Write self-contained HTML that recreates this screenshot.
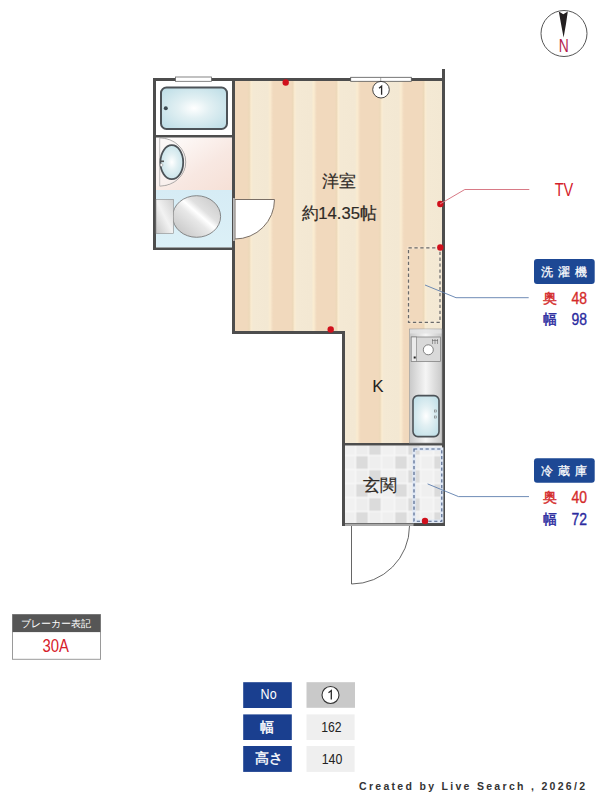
<!DOCTYPE html>
<html><head><meta charset="utf-8">
<style>
html,body{margin:0;padding:0;background:#fff;width:600px;height:800px;overflow:hidden}
svg{display:block}
text{font-family:"Liberation Sans",sans-serif}
</style></head><body>
<svg width="600" height="800" viewBox="0 0 600 800">
<defs>
  <pattern id="stripes" x="227.9" y="0" width="43.6" height="800" patternUnits="userSpaceOnUse">
    <rect x="0" y="0" width="43.6" height="800" fill="url(#stripegrad)"/>
  </pattern>
  <linearGradient id="stripegrad" x1="0" y1="0" x2="43.6" y2="0" gradientUnits="userSpaceOnUse">
    <stop offset="0" stop-color="#f5e2c8"/>
    <stop offset="0.04" stop-color="#f1d9bd"/>
    <stop offset="0.45" stop-color="#f1d9bd"/>
    <stop offset="0.49" stop-color="#ecd8b9"/>
    <stop offset="0.53" stop-color="#faecd2"/>
    <stop offset="0.58" stop-color="#f4e9d4"/>
    <stop offset="0.92" stop-color="#f3e8d3"/>
    <stop offset="0.97" stop-color="#fbecd0"/>
    <stop offset="1" stop-color="#f5e2c8"/>
  </linearGradient>
  <pattern id="tiles" x="342.5" y="441.5" width="39" height="28" patternUnits="userSpaceOnUse">
    <rect width="39" height="28" fill="#f7f7f7"/>
    <rect x="0.7" y="0.7" width="11.6" height="12.6" fill="#f1f1f1"/>
    <rect x="13.7" y="0.7" width="11.6" height="12.6" fill="#ededed"/>
    <rect x="26.7" y="0.7" width="11.6" height="12.6" fill="#dbdbdb"/>
    <rect x="0.7" y="14.7" width="11.6" height="12.6" fill="#efefef"/>
    <rect x="13.7" y="14.7" width="11.6" height="12.6" fill="#dbdbdb"/>
    <rect x="26.7" y="14.7" width="11.6" height="12.6" fill="#eeeeee"/>
  </pattern>
  <radialGradient id="water" cx="0.5" cy="0.5" r="0.6">
    <stop offset="0" stop-color="#ffffff"/>
    <stop offset="0.4" stop-color="#e2f0f3"/>
    <stop offset="1" stop-color="#c2e0e8"/>
  </radialGradient>
  <linearGradient id="pink" x1="0" y1="0" x2="1" y2="1">
    <stop offset="0" stop-color="#ffffff"/>
    <stop offset="0.6" stop-color="#f8e8e2"/>
    <stop offset="1" stop-color="#f6e0d6"/>
  </linearGradient>
  <linearGradient id="blueflr" x1="0" y1="0" x2="0" y2="1">
    <stop offset="0" stop-color="#d6ecf5"/>
    <stop offset="1" stop-color="#dcf0f7"/>
  </linearGradient>
  <linearGradient id="silver" x1="0" y1="0" x2="1" y2="0">
    <stop offset="0" stop-color="#c9c9c9"/>
    <stop offset="0.5" stop-color="#f5f5f5"/>
    <stop offset="1" stop-color="#c9c9c9"/>
  </linearGradient>
  <linearGradient id="silvertank" x1="0" y1="1" x2="1" y2="0">
    <stop offset="0" stop-color="#c6c6c6"/>
    <stop offset="0.5" stop-color="#f2f2f2"/>
    <stop offset="1" stop-color="#d0d0d0"/>
  </linearGradient>
  <linearGradient id="silverdiag" x1="0" y1="1" x2="1" y2="0">
    <stop offset="0" stop-color="#bdbdbd"/>
    <stop offset="0.45" stop-color="#e8e8e8"/>
    <stop offset="0.55" stop-color="#ffffff"/>
    <stop offset="0.65" stop-color="#e0e0e0"/>
    <stop offset="1" stop-color="#c4c4c4"/>
  </linearGradient>
</defs>

<!-- main room floor -->
<polygon points="235,81 442,81 442,443 345,443 345,331 235,331" fill="url(#stripes)"/>
<!-- genkan floor -->
<rect x="345" y="445.5" width="97" height="77.5" fill="url(#tiles)"/>
<!-- bathroom -->
<rect x="156" y="81" width="76" height="54" fill="#fff"/>
<rect x="156" y="137.5" width="76" height="52.5" fill="url(#pink)"/>
<rect x="156" y="190" width="76" height="57.5" fill="url(#blueflr)"/>

<!-- walls -->
<g fill="#4d4d4d">
  <rect x="153" y="78" width="292" height="3"/>
  <rect x="153" y="78" width="3" height="172"/>
  <rect x="153" y="247.5" width="82" height="2.5"/>
  <rect x="232" y="78" width="3" height="256"/>
  <rect x="232" y="331" width="113" height="3"/>
  <rect x="342" y="331" width="3" height="195"/>
  <rect x="342" y="523" width="103" height="3"/>
  <rect x="442" y="69" width="3" height="457"/>
  <rect x="342" y="443" width="103" height="2.5"/>
  <rect x="156" y="135" width="76" height="2.5"/>
</g>


<!-- bathtub -->
<rect x="161" y="87.5" width="66" height="41.5" rx="5.5" fill="url(#water)" stroke="#4d5358" stroke-width="2"/>
<circle cx="165.8" cy="108.3" r="2" fill="#3d4a52"/>
<!-- vanity -->
<path d="M159.7,138 A26,24 0 0 1 159.7,186" fill="none" stroke="#777" stroke-width="0.8"/>
<path d="M156,138 L159.7,138 A26,24 0 0 1 159.7,186 L156,186 Z" fill="#f7f3f3" stroke="none" opacity="0.5"/>
<line x1="159.7" y1="138" x2="159.7" y2="186" stroke="#999" stroke-width="0.6"/>
<ellipse cx="171.8" cy="162.2" rx="11.4" ry="17" fill="url(#water)" stroke="#4d5358" stroke-width="1.8"/>
<rect x="160.5" y="160.5" width="3.5" height="1.6" fill="#555"/>
<circle cx="161.5" cy="165" r="1.4" fill="#fff" stroke="#888" stroke-width="0.5"/>
<!-- toilet -->
<ellipse cx="196.6" cy="216.5" rx="24" ry="20.8" fill="url(#silverdiag)" stroke="#6e6e6e" stroke-width="0.8"/>
<rect x="156" y="199.5" width="17.4" height="34" fill="url(#silvertank)" stroke="#8a8a8a" stroke-width="0.6"/>
<!-- toilet door -->
<path d="M235,199.5 L274.5,199.5 A39.5,39.5 0 0 1 235,239 Z" fill="#fff" stroke="#7a6f66" stroke-width="1"/>
<rect x="233.2" y="198" width="1.4" height="43" fill="#d4d4d4"/>
<!-- windows -->
<rect x="175.5" y="77" width="36" height="4.3" fill="#fff" stroke="#666" stroke-width="0.8"/>
<rect x="350.7" y="77.3" width="60.6" height="4" fill="#fff" stroke="#555" stroke-width="0.8"/>
<line x1="380.7" y1="77.3" x2="380.7" y2="81.3" stroke="#777" stroke-width="0.6"/>
<circle cx="381" cy="89.7" r="8.3" fill="#fff" stroke="#333" stroke-width="0.9"/>
<path d="M381.6,94.8 V86.2 L379,88.3" fill="none" stroke="#2a2a2a" stroke-width="1.3" stroke-linejoin="miter"/>
<!-- washing machine dashed -->
<rect x="408.5" y="247.8" width="31.5" height="74.5" fill="none" stroke="#fbf3e6" stroke-width="2.6" opacity="0.35"/>
<rect x="408.5" y="247.8" width="31.5" height="74.5" fill="none" stroke="#6a6a6a" stroke-width="1.25" stroke-dasharray="3.3,2.6"/>
<!-- kitchen counter -->
<rect x="409.5" y="329" width="32.5" height="114" fill="url(#silver)" stroke="#9a9a9a" stroke-width="0.6"/>
<rect x="410" y="329.5" width="31.5" height="4" fill="#e4e4e4" opacity="0.8"/>
<rect x="411.2" y="337" width="29.4" height="24.5" fill="#d9d9d9" stroke="#777" stroke-width="0.7"/>
<rect x="411.2" y="337" width="5.5" height="24.5" fill="#ebebeb" stroke="#777" stroke-width="0.6"/>
<circle cx="428.3" cy="349.8" r="5" fill="#fff" stroke="#666" stroke-width="0.8"/>
<rect x="413.7" y="356.5" width="2" height="2" fill="#222"/>
<g stroke="#666" stroke-width="0.6"><line x1="432.5" y1="339" x2="432.5" y2="344"/><line x1="435" y1="339" x2="435" y2="344"/><line x1="437.5" y1="339" x2="437.5" y2="344"/><line x1="432" y1="340.5" x2="438" y2="340.5"/></g>
<rect x="413" y="395.6" width="26" height="41" rx="5" fill="url(#water)" stroke="#4d5358" stroke-width="1.6"/>
<rect x="434.5" y="410" width="2" height="2" fill="none" stroke="#666" stroke-width="0.5"/>
<rect x="434.5" y="416" width="2" height="2" fill="none" stroke="#666" stroke-width="0.5"/>
<!-- fridge dashed -->
<rect x="414" y="449" width="27.8" height="72.2" fill="none" stroke="#dfe8f6" stroke-width="3.2"/>
<rect x="414" y="449" width="27.8" height="72.2" fill="none" stroke="#4e6288" stroke-width="1.15" stroke-dasharray="3.2,2.6"/>
<!-- entrance door -->
<rect x="345" y="523" width="68.5" height="3" fill="#a8a8a8"/>
<line x1="345" y1="523.5" x2="413.5" y2="523.5" stroke="#555" stroke-width="0.7"/>
<path d="M351.5,526 L351.5,584 A58,58 0 0 0 409.5,526" fill="none" stroke="#555" stroke-width="0.9"/>
<!-- red dots -->
<g fill="#d0101c">
<circle cx="285.7" cy="82.5" r="3.2"/>
<circle cx="440.3" cy="204" r="3.2"/>
<circle cx="440.3" cy="247.5" r="3.2"/>
<circle cx="330.7" cy="329.5" r="3.2"/>
<circle cx="425" cy="521" r="3.2"/>
</g>
<!-- leader lines -->
<polyline points="440,204 464.8,189.5 529.3,189.5" fill="none" stroke="#d87a86" stroke-width="1"/>
<polyline points="425,285 456,297.7 528.7,297.7" fill="none" stroke="#5f7fae" stroke-width="0.9"/>
<polyline points="427.6,483.9 458.5,496.6 529,496.6" fill="none" stroke="#5f7fae" stroke-width="0.9"/>

<!-- compass -->
<circle cx="564" cy="33.5" r="23" fill="#fff" stroke="#555" stroke-width="1"/>
<path d="M558.8,11.4 L563.3,14.2 L567.8,11.4 Q566.2,24 563.6,37.5 Q561,24 558.8,11.4 Z" fill="#231f20"/>

<!-- labels -->
<text x="339.2" y="187.3" font-size="17" text-anchor="middle" fill="#2e2a26" stroke="#2e2a26" stroke-width="0.2">洋室</text>
<text x="339.2" y="218.5" font-size="17" text-anchor="middle" fill="#2e2a26" stroke="#2e2a26" stroke-width="0.2" textLength="75" lengthAdjust="spacingAndGlyphs">約14.35帖</text>
<text x="378" y="392" font-size="17" text-anchor="middle" fill="#222">K</text>
<text x="380" y="490.5" font-size="16.5" text-anchor="middle" fill="#2e2a26" stroke="#2e2a26" stroke-width="0.2">玄関</text>

<text x="554.7" y="196" font-size="19" fill="#d4202a" textLength="18.6" lengthAdjust="spacingAndGlyphs">TV</text>


<!-- appliance labels -->
<rect x="534" y="259" width="60.7" height="25" rx="3" fill="#1d4894"/>
<g font-size="12" text-anchor="middle" fill="#fff" stroke="#fff" stroke-width="0.25"><text x="546.6" y="275.8">洗</text><text x="563.6" y="275.8">濯</text><text x="580.7" y="275.8">機</text></g>
<g font-size="14" stroke-width="0.45">
<text x="543" y="302.8" fill="#d42a2a" stroke="#d42a2a">奥</text>
<text x="543" y="324.2" fill="#2b2ba0" stroke="#2b2ba0">幅</text>
</g>
<g font-size="16.2" stroke-width="0.35">
<text x="571.5" y="304" fill="#d42a2a" stroke="#d42a2a" textLength="15.5" lengthAdjust="spacingAndGlyphs">48</text>
<text x="571.5" y="325" fill="#2b2ba0" stroke="#2b2ba0" textLength="15.5" lengthAdjust="spacingAndGlyphs">98</text>
</g>

<rect x="534" y="458.3" width="60.7" height="24.5" rx="3" fill="#1d4894"/>
<g font-size="12" text-anchor="middle" fill="#fff" stroke="#fff" stroke-width="0.25"><text x="546.6" y="475">冷</text><text x="563.6" y="475">蔵</text><text x="580.7" y="475">庫</text></g>
<g font-size="14" stroke-width="0.45">
<text x="543" y="501.5" fill="#d42a2a" stroke="#d42a2a">奥</text>
<text x="543" y="523.5" fill="#2b2ba0" stroke="#2b2ba0">幅</text>
</g>
<g font-size="16.2" stroke-width="0.35">
<text x="571.5" y="502.7" fill="#d42a2a" stroke="#d42a2a" textLength="15.5" lengthAdjust="spacingAndGlyphs">40</text>
<text x="571.5" y="524.5" fill="#2b2ba0" stroke="#2b2ba0" textLength="15.5" lengthAdjust="spacingAndGlyphs">72</text>
</g>

<!-- breaker -->
<rect x="12.5" y="614.5" width="88" height="44.8" fill="#fff" stroke="#9a9a9a" stroke-width="1"/>
<rect x="12.5" y="614.5" width="88" height="17.6" fill="#565656"/>
<text x="56" y="627.2" font-size="10" text-anchor="middle" fill="#fff">ブレーカー表記</text>
<text x="42.6" y="652.3" font-size="19" fill="#d6202a" textLength="26.4" lengthAdjust="spacingAndGlyphs">30A</text>

<!-- table -->
<g fill="#1a3f8f">
<rect x="243.2" y="682.2" width="48.6" height="25.8"/>
<rect x="243.2" y="714.4" width="48.6" height="25.6"/>
<rect x="243.2" y="746" width="48.6" height="25.9"/>
</g>
<rect x="306.5" y="682.2" width="48.5" height="25.6" fill="#c9c9c9"/>
<rect x="306.5" y="714.4" width="48.1" height="25.6" fill="#efefef"/>
<rect x="306.5" y="746" width="48.1" height="25.9" fill="#efefef"/>
<text x="260.6" y="699.3" font-size="14" fill="#fff" textLength="16" lengthAdjust="spacingAndGlyphs">No</text>
<text x="267.2" y="731.6" font-size="14" text-anchor="middle" fill="#fff" stroke="#fff" stroke-width="0.4">幅</text>
<text x="268.5" y="763.3" font-size="14" text-anchor="middle" fill="#fff" stroke="#fff" stroke-width="0.4">高さ</text>
<circle cx="330.5" cy="695" r="8.5" fill="#fff" stroke="#333" stroke-width="1.1"/>
<path d="M331.3,699.6 V690.6 L328.5,692.8" fill="none" stroke="#2a2a2a" stroke-width="1.3"/>
<text x="321.2" y="732.4" font-size="14.5" fill="#222" textLength="20.4" lengthAdjust="spacingAndGlyphs">162</text>
<text x="321.7" y="763.8" font-size="14.5" fill="#222" textLength="20.6" lengthAdjust="spacingAndGlyphs">140</text>
<!-- compass N -->
<text x="558.7" y="52" font-size="17.5" fill="#b41e4e" textLength="10" lengthAdjust="spacingAndGlyphs">N</text>

<!-- footer -->
<text x="359" y="789.5" font-size="10.5" font-weight="bold" letter-spacing="2.3" fill="#333">Created by Live Search , 2026/2</text>
</svg>
</body></html>
